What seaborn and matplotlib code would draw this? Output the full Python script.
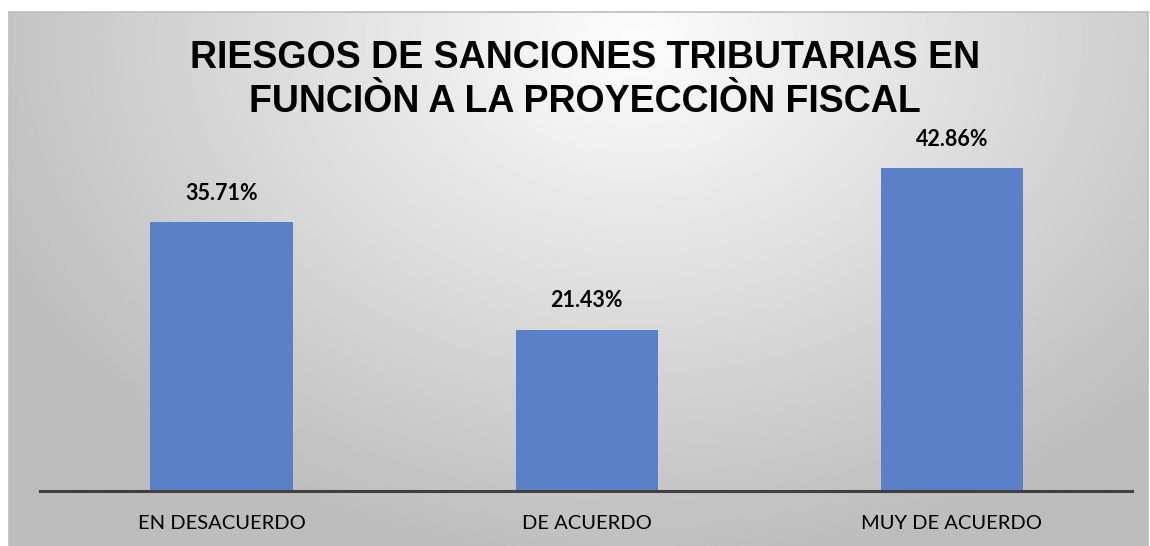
import numpy as np
import pandas as pd
import matplotlib
matplotlib.use("Agg")
import matplotlib.pyplot as plt
import seaborn as sns

# data
categorias = ["EN DESACUERDO", "DE ACUERDO", "MUY DE ACUERDO"]
porcentajes = [35.71, 21.43, 42.86]
titulo = "RIESGOS DE SANCIONES TRIBUTARIAS EN\nFUNCIÒN A LA PROYECCIÒN FISCAL"

sns.set_style("white")
plt.rcParams["font.family"] = ["Lato", "DejaVu Sans"]
plt.rcParams["text.color"] = "black"

df = pd.DataFrame({"cat": categorias, "pct": porcentajes})

fig = plt.figure(figsize=(11.5, 5.46), dpi=100)
fig.patch.set_facecolor("white")

# gray gradient panel behind the chart
bg = fig.add_axes([9 / 1150, 0, 1139 / 1150, 1 - 12 / 546], zorder=0)
yy, xx = np.mgrid[0:1:300j, 0:1:600j]
r = np.sqrt(((xx - 0.55) / 0.72) ** 2 + ((yy - 0.05) / 1.15) ** 2)
grad = np.clip(0.99 - 0.29 * r, 0.74, 1.0)
bg.imshow(grad, cmap="gray", vmin=0, vmax=1, aspect="auto", extent=[0, 1, 1, 0])
bg.set_xticks([])
bg.set_yticks([])
for s in bg.spines.values():
    s.set_color("#bdbdbd")
    s.set_linewidth(1.2)
bg.spines["bottom"].set_visible(False)

ax = fig.add_axes([40 / 1150, 1 - 491 / 546, 1092 / 1150, 376.8 / 546], zorder=1)
ax.patch.set_alpha(0)
sns.barplot(data=df, x="cat", y="pct", color="#5a81c8", saturation=1, width=0.39,
            edgecolor="none", ax=ax)

ax.bar_label(ax.containers[0], labels=[f"{v:.2f}%" for v in porcentajes],
             padding=13, fontsize=15.5, fontweight="bold", color="black")

ax.set_xlim(-0.497, 2.493)
ax.set_ylim(0, 50)
ax.set_xlabel("")
ax.set_ylabel("")
ax.set_yticks([])
ax.tick_params(axis="x", length=0, pad=17, labelsize=14.5, labelcolor="black")
for s in ["top", "right", "left"]:
    ax.spines[s].set_visible(False)
ax.spines["bottom"].set_color("#404040")
ax.spines["bottom"].set_linewidth(2.2)

fig.text(585 / 1150, 1 - 80 / 546, titulo, ha="center", va="center", color="black",
         fontsize=27, fontweight="bold", family=["Liberation Sans", "DejaVu Sans"],
         linespacing=1.3)

fig.savefig("out.png", dpi=100)
